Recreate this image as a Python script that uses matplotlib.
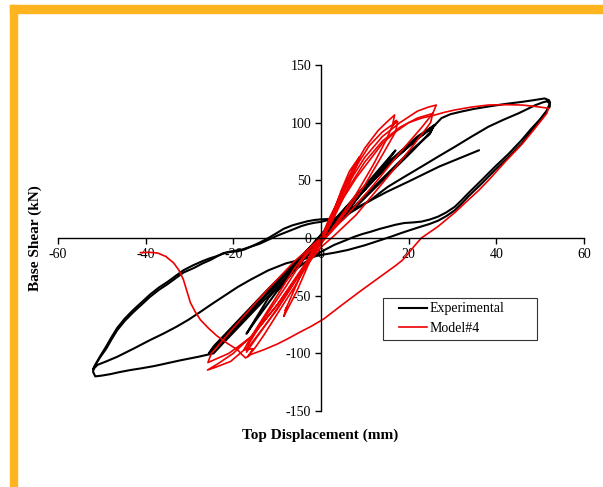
import matplotlib
matplotlib.use("Agg")
import matplotlib.pyplot as plt
from matplotlib.patches import Rectangle

plt.rcParams['font.family'] = ['Liberation Serif', 'DejaVu Serif']
plt.rcParams['axes.unicode_minus'] = False

# Experimental hysteresis (top displacement mm, base shear kN)
# small cycles up to +/-25 mm
exp_small_x = [0, 3, 5, 3, 0, -3, -5, -3, 0, 5, 10, 7, 2, 0, -5, -10, -7, -2, 0,
               6, 12, 17, 15, 10, 3, 0, -6, -12, -17, -15, -10, -3, 0,
               8, 16, 22, 25.9, 25, 21, 13, 5, 0, -8, -16, -22, -25.6, -24.5, -20, -12, -4, 0,
               8, 16, 22, 25.5, 24.8, 20, 12, 4, 0, -8, -16, -22, -25.3, -24, -18, -10, -3, 0,
               8, 16, 22, 26]
exp_small_y = [0, 12, 22, 10, -2, -13, -24, -11, 2, 22, 44, 28, 5, -3, -22, -46, -30, -6, 3,
               28, 54, 76, 66, 42, 10, -3, -26, -52, -83, -72, -46, -14, 2,
               36, 68, 88, 98, 92, 76, 46, 16, 2, -30, -64, -88, -100, -94, -76, -44, -14, 2,
               34, 66, 86, 96, 90, 74, 44, 14, 0, -30, -64, -88, -99, -93, -70, -40, -12, 2,
               34, 66, 86, 98]

# first +/-52 mm cycle
exp_big_x = [26, 27.5, 29.5, 32, 35, 38.2, 42, 45.8, 48.5, 51, 52, 52.2, 52.2,
             50, 47.8, 45.8, 42.8, 39.7, 36.6, 33.6, 32, 30.5, 28.5, 26.7, 24.8, 22.9, 21, 19,
             17, 15.3, 13.3, 11.4, 9.5, 7.6, 5.3, 3, 0, -2.5, -5, -7.5, -10, -12.5, -15, -17.5,
             -20, -22.3, -24.5, -28, -32, -35, -38, -41, -43.5, -46, -48, -50, -51.5,
             -52, -51.8, -50.5, -49, -47.8, -46.5, -44.8, -43, -41, -39, -37, -35, -33.2, -31.4,
             -29, -27, -25.2, -23.5, -22.2, -20.5, -19, -17.5, -16, -14, -12, -10, -8.5, -6.5,
             -4.6, -3, -1.5, 0, 2, 4, 6, 7.6, 9.5, 11.4, 13.3, 15.3, 19, 22.9, 26.7, 30.5,
             34.3, 38.2, 41.6, 45, 48.8, 50.5, 51.5, 52.2]
exp_big_y = [98, 104, 107.3, 109.6, 112, 114, 116.2, 118, 119.5, 121, 119.5, 118, 113.9,
             103, 94, 85, 73, 61.8, 50, 38.8, 32.5, 27, 22, 18.5, 16, 14.2, 13.5, 13,
             11.5, 9.8, 7.8, 5.5, 3.5, 1.1, -2.5, -6, -12, -18, -25, -33, -42, -52, -62, -72,
             -82, -91, -100, -103, -106, -108.5, -111, -113, -114.5, -116.3, -118, -119.3, -120,
             -116, -112, -104, -96, -88, -80, -72, -65, -58, -51, -45, -40, -35, -30,
             -26, -22, -19, -15.5, -13, -12, -11.5, -10, -7.5, -4, 0, 4.5, 8, 11,
             13, 14.6, 15.6, 16.2, 16.5, 17.5, 20.5, 24, 28.5, 33, 38.8, 44.5, 53, 61.8, 70.5, 79,
             87.8, 96.5, 102.5, 108, 115, 117.5, 118.5, 117]

# second +/-52 mm cycle and the last partial reload
exp_last_x = [52.2, 51.5, 48.6, 45.8, 42.7, 39.7, 36.6, 33.6, 32, 30.5, 28.6, 26.7, 24.8,
              22.9, 20.6, 18.3, 16, 13.7, 10, 6.1, 3, 0, -4, -8, -12, -16, -19, -22, -24.8,
              -27.5, -30.2, -33, -36, -39, -42.8, -46.5, -49, -51, -52,
              -51.5, -50.3, -49, -47.8, -46.5, -44.8, -43, -41, -39, -37, -35, -33.2, -31.4,
              -29.2, -27, -25.5, -24, -22.5, -21, -19.5, -18, -16, -14, -12, -10, -8, -6, -4.5,
              -3, -1.5, 0, 2.5, 5, 7.5, 10, 12.5, 15, 17.5, 20, 23.5, 27, 31.5, 36]
exp_last_y = [117, 110, 96, 82, 70, 59, 47, 36, 29.5, 24, 19, 15, 12.2,
              10, 7.2, 4.3, 1.2, -1.7, -6.3, -10.4, -12.8, -14.7, -18.2, -22, -28, -36, -42.5, -50, -57,
              -64, -70.8, -77, -83, -88.5, -96, -103, -107, -110, -114,
              -110, -102, -94, -86, -78, -70, -63, -56, -49, -43, -38, -33, -28,
              -23.7, -20, -17.8, -16, -13.8, -12, -11, -10, -7.5, -5, -1.5, 2, 5, 8, 10.3,
              12, 13.2, 14, 16.5, 20, 25, 30, 35, 40, 44.5, 49, 55.5, 62, 69, 76]

# Model#4 hysteresis
mod_small_x = [0, 1.5, 3, 4.6, 6.5, 8.8, 8.2, 8.6, 7, 5, 3, 0.5, -1, -3, -5.5, -8.5, -7.8, -8.2,
               -6, -3.5, -1, 0,
               2, 4, 7, 10, 13, 15, 16.8, 16.4, 17.2, 16, 15, 12, 8, 4, 1, -1, -3, -6, -10, -13, -15,
               -16.7, -15.5, -17.6, -16, -14, -10, -6, -2, 0,
               2, 5, 8, 11, 14, 16, 17.5, 17, 14, 10, 6, 2, -1, -4, -8, -12, -15, -17, -16.5, -13,
               -8, -4, 0]
mod_small_y = [0, 10, 24, 41, 58, 70.5, 65, 67, 52, 34, 18, 0, -8, -24, -46, -68, -60, -63,
               -44, -22, -4, 0,
               16, 34, 58, 78, 93, 100.5, 106.7, 99.5, 102, 95, 86, 64, 38, 16, 0, -10, -22, -42, -66, -84, -95,
               -103, -96, -97, -86, -74, -50, -26, -6, 0,
               18, 40, 62, 80, 92, 97.5, 101, 92, 72, 46, 24, 4, -6, -26, -50, -72, -88, -99, -92, -70,
               -42, -18, 0]

mod_mid_x = [0, 3, 6, 10, 14, 18, 22, 24.5, 26.3, 25.5, 23, 18, 12, 6, 2, -1, -5, -10, -15, -20,
             -23.5, -25.9, -24, -20.6, -16, -10, -5, 0,
             3, 6, 10, 14, 18, 22, 25.5, 25, 21, 15, 8, 3, 0, -5, -10, -16, -21, -25.8, -25, -20,
             -13, -6, 0]
mod_mid_y = [0, 22, 46, 70, 88, 100, 110, 113.5, 115.3, 108, 96, 74, 46, 20, 4, -8, -30, -58, -82, -100,
             -109, -114.5, -112, -107, -92, -62, -32, -5,
             20, 42, 66, 84, 96, 104, 108, 100, 80, 52, 20, 2, -8, -32, -58, -86, -100, -108, -100, -78,
             -48, -20, 0]

mod_big_x = [0, 3, 8, 14, 17, 20, 23, 26, 28.2, 30.5, 34.3, 38.2, 42, 45.8, 49, 51.9,
             51.5, 48.8, 46, 42, 38.2, 35.9, 33.6, 32, 30.5, 28.6, 26.7, 24.8, 22.9, 21.4, 20,
             18.5, 17, 13, 9, 4.8, 0.7, -2.2, -5, -7.5, -10, -13, -16, -17.2,
             -18.2, -19, -21.3, -23.7, -25.6, -27.5, -28.7, -29.8, -30.6, -31.4, -32.4, -33.6,
             -35.4, -37.3, -39.2, -41.2]
mod_big_y = [0, 22, 52, 82, 92, 100, 104, 106.7, 109, 111, 113.5, 115.3, 115.6, 115.3, 114, 112.5,
             108, 95, 82, 66, 50, 41, 33, 27.3, 22, 16, 10, 5, 0, -6.5, -13,
             -19.5, -24, -35, -46, -58, -70, -76.5, -82, -87.2, -92, -96.8, -101, -104,
             -100.5, -97, -91.5, -85, -78.5, -71, -64, -56, -46, -36, -28, -21.7,
             -16, -13, -12.4, -12.7]

fig = plt.figure(figsize=(6.03, 4.87), dpi=100)

# orange frame along the top and left edges
fig.patches.append(Rectangle((10 / 603, 0), 7 / 603, 482 / 487, transform=fig.transFigure,
                             color='#FDB41E', zorder=0))
fig.patches.append(Rectangle((10 / 603, 474 / 487), 593 / 603, 8 / 487, transform=fig.transFigure,
                             color='#FDB41E', zorder=0))

ax = fig.add_axes([58 / 603, 76 / 487, 526 / 603, 346 / 487])
ax.patch.set_alpha(0)

black_kw = dict(color='black', lw=1.5, solid_joinstyle='round')
red_kw = dict(color='#EE0000', lw=1.2, solid_joinstyle='round')

ax.plot(exp_small_x, exp_small_y, **black_kw)
ax.plot(exp_big_x, exp_big_y, **black_kw)
ax.plot(exp_last_x, exp_last_y, label='Experimental', **black_kw)

ax.plot(mod_small_x, mod_small_y, **red_kw)
ax.plot(mod_mid_x, mod_mid_y, **red_kw)
ax.plot(mod_big_x, mod_big_y, label='Model#4', **red_kw)

ax.set_xlim(-60, 60)
ax.set_ylim(-150, 150)
ax.set_xticks(range(-60, 61, 20))
ax.set_yticks(range(-150, 151, 50))

for side in ['top', 'right']:
    ax.spines[side].set_visible(False)
ax.spines['left'].set_position(('data', 0))
ax.spines['bottom'].set_position(('data', 0))
for side in ['left', 'bottom']:
    ax.spines[side].set_linewidth(1.0)
ax.tick_params(direction='out', length=4, width=1.0, labelsize=10, pad=3)

fig.text(35 / 603, 1 - 238 / 487, 'Base Shear (kN)', rotation=90, ha='center', va='center',
         fontsize=11, fontweight='bold')
fig.text(320 / 603, 1 - 435 / 487, 'Top Displacement (mm)', ha='center', va='center',
         fontsize=11, fontweight='bold')

# legend box drawn separately so the entries can sit inset from its left edge
ax.add_patch(Rectangle((383 / 603, 1 - 340 / 487), 154 / 603, 42 / 487,
                       transform=fig.transFigure, facecolor='white', clip_on=False,
                       edgecolor='#333333', lw=0.8, zorder=5))
leg = ax.legend(loc='upper left', bbox_to_anchor=(398 / 603, 1 - 301 / 487),
                bbox_transform=fig.transFigure, frameon=False, fontsize=10,
                handlelength=2.0, handletextpad=0.15, borderpad=0.1,
                labelspacing=0.5, borderaxespad=0)
leg.set_zorder(6)

fig.savefig('out.png', dpi=100)
